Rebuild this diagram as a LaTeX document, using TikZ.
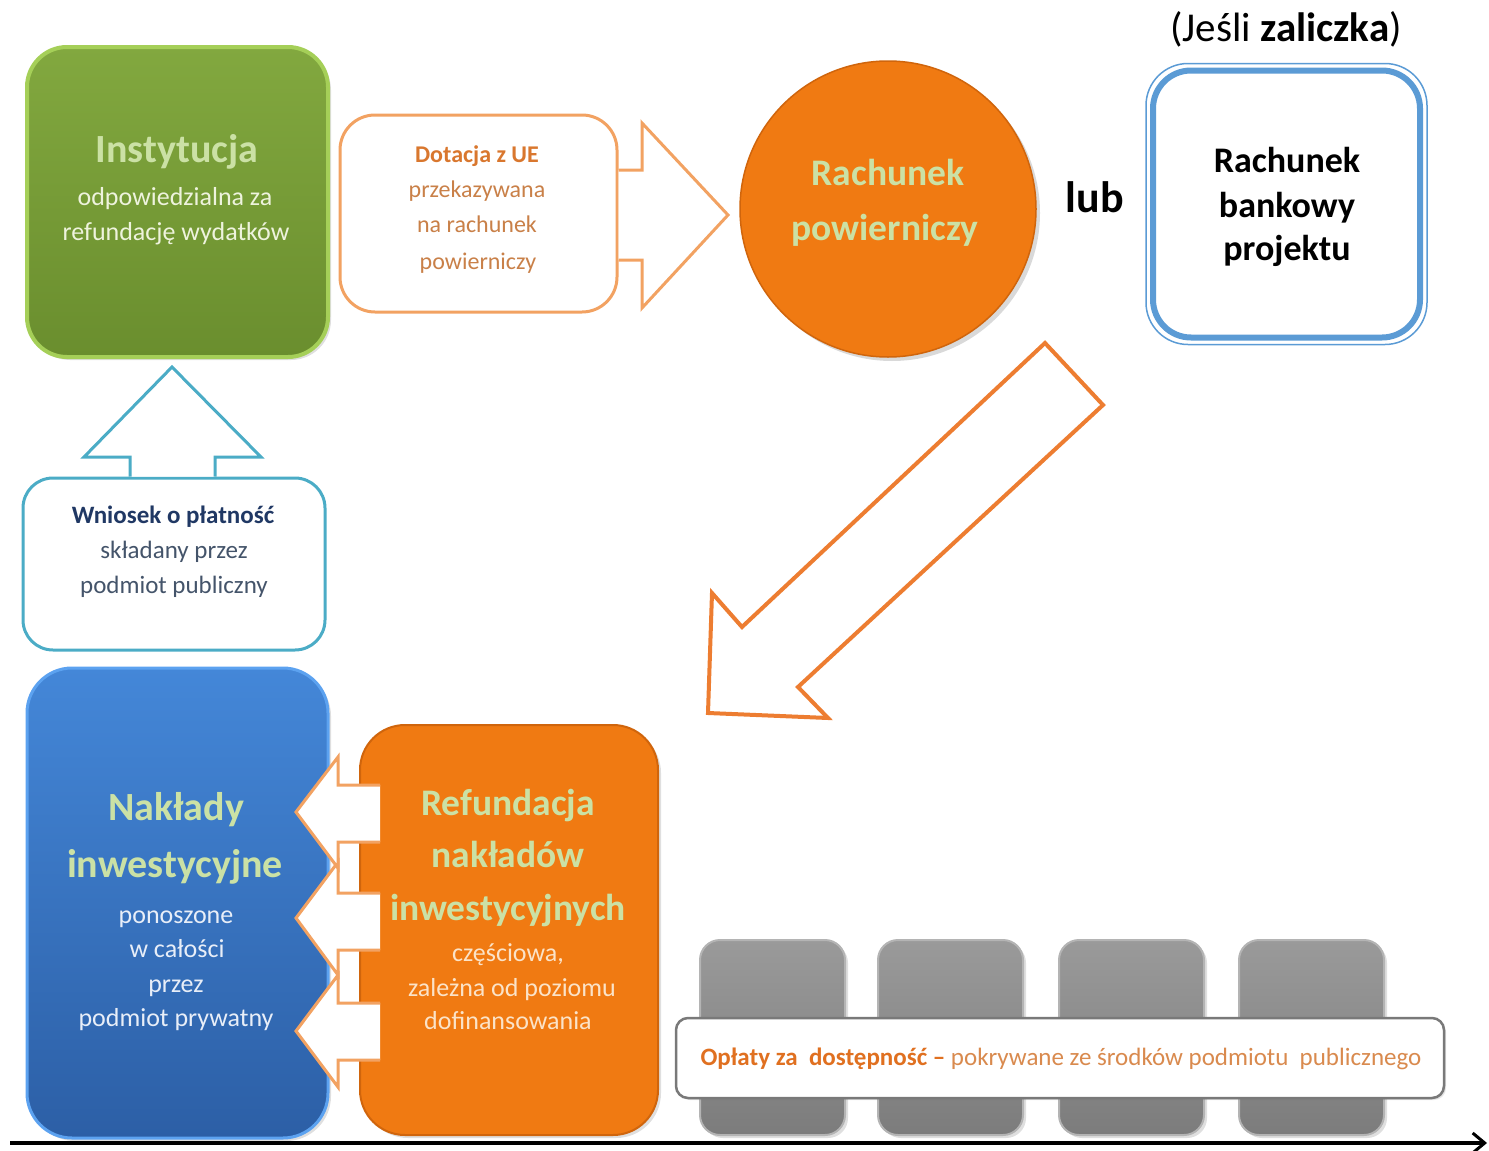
\documentclass[tikz,border=0pt]{standalone}
\usepackage{fontspec}
\setmainfont{Carlito}
\usetikzlibrary{shadows,calc,arrows.meta}
\definecolor{gTop}{HTML}{82A83F}
\definecolor{gBot}{HTML}{6A8E2E}
\definecolor{gRim}{HTML}{A5CF58}
\definecolor{hgreen}{HTML}{CBE1A5}
\definecolor{instTxt}{HTML}{EEF3DD}
\definecolor{orFill}{HTML}{F07A12}
\definecolor{orEdge}{HTML}{D0650C}
\definecolor{orLine}{HTML}{F2A262}
\definecolor{bigOr}{HTML}{ED7D31}
\definecolor{bTop}{HTML}{4487D8}
\definecolor{bBot}{HTML}{2C5FA6}
\definecolor{bRim}{HTML}{5CA2F0}
\definecolor{tealL}{HTML}{4BACC6}
\definecolor{acct}{HTML}{5B9BD5}
\definecolor{navyT}{HTML}{203864}
\definecolor{slateT}{HTML}{44546A}
\definecolor{dotT}{HTML}{D9772E}
\definecolor{dotB}{HTML}{C98048}
\definecolor{grayTop}{HTML}{9A9A9A}
\definecolor{grayBot}{HTML}{7C7C7C}
\definecolor{grayRim}{HTML}{B4B4B4}
\definecolor{nakTxt}{HTML}{E8EEF8}
\definecolor{refTxt}{HTML}{FBE3C8}
\definecolor{oplB}{HTML}{E07020}
\definecolor{oplR}{HTML}{D98A4E}
\tikzset{
  lbl/.style={inner sep=0pt, anchor=base},
  headtxt/.style={lbl, yshift=-12.6pt, font=\fontsize{40}{42}\selectfont\bfseries, text=hgreen},
  headsm/.style={lbl, yshift=-12pt, font=\fontsize{37.5}{40}\selectfont\bfseries, text=hgreen},
  bodytxt/.style={lbl, yshift=-8.5pt, font=\fontsize{26}{30}\selectfont},
  dottxt/.style={lbl, yshift=-7.7pt, font=\fontsize{24}{28}\selectfont, text=dotB},
  wntxt/.style={lbl, yshift=-8pt, font=\fontsize{25}{28}\selectfont, text=slateT},
  banktxt/.style={lbl, yshift=-11.5pt, font=\fontsize{36}{40}\selectfont\bfseries, text=black},
  boxshadow/.style={drop shadow={opacity=0.25, shadow xshift=3pt, shadow yshift=-3pt}},
  blockarrow/.style={line width=3, line join=miter, fill=white},
  graybox/.style={rectangle, rounded corners=20, minimum width=145, minimum height=195,
     top color=grayTop, bottom color=grayBot, draw=grayRim, line width=2, boxshadow},
}
\begin{document}
\begin{tikzpicture}[x=1pt,y=-1pt]
\useasboundingbox (0,0) rectangle (1489,1151);

% ---------- top left: institution ----------
\node[rectangle, rounded corners=40, minimum width=301, minimum height=310,
      top color=gTop, bottom color=gBot, draw=gRim, line width=4, boxshadow] (inst) at (177.5,202) {};
\node[headtxt] (inst1) at (177,150) {Instytucja};
\node[bodytxt, text=instTxt] (inst2) at (175,197) {odpowiedzialna za};
\node[bodytxt, text=instTxt] (inst3) at (176,232) {refundację wydatków};

% ---------- Dotacja box and arrow ----------
\node[rectangle, rounded corners=35, minimum width=277, minimum height=197,
      draw=orLine, line width=3, fill=white] (dot) at (478.5,213.5) {};
\node[dottxt, text=dotT, font=\fontsize{24}{28}\selectfont\bfseries] (dot1) at (477,155) {Dotacja z UE};
\node[dottxt] (dot2) at (477,190) {przekazywana};
\node[dottxt] (dot3) at (477,225) {na rachunek};
\node[dottxt] (dot4) at (478,262) {powierniczy};
\draw[blockarrow, draw=orLine] (dot.east |- 0,170) -- (642,170) -- (642,123) -- (728,215)
   -- (642,308) -- (642,260) -- (dot.east |- 0,260);

% ---------- circle ----------
\node[circle, minimum size=296, fill=orFill, draw=orEdge, line width=1.5,
      drop shadow={opacity=0.3, shadow xshift=4pt, shadow yshift=-4pt}] (circ) at (888,209) {};
\node[headsm] (circ1) at (888,173) {Rachunek};
\node[headsm] (circ2) at (885,228) {powierniczy};

% ---------- lub / bank account ----------
\node[lbl, yshift=-14pt, font=\fontsize{44}{48}\selectfont\bfseries] (lub) at (1095,198) {lub};
\node[lbl, yshift=-13pt, font=\fontsize{41}{44}\selectfont] (jesli) at (1286,28) {(Jeśli \textbf{zaliczka})};
\node[rectangle, rounded corners=38, minimum width=267, minimum height=267,
      draw=acct, line width=6, fill=white] (bank) at (1286.5,204) {};
\draw[acct, line width=1.5, rounded corners=42]
   ($(bank.south west)+(-4,4)$) rectangle ($(bank.north east)+(4,-4)$);
\node[banktxt] (bank1) at (1287,161) {Rachunek};
\node[banktxt] (bank2) at (1287,206) {bankowy};
\node[banktxt] (bank3) at (1287,249) {projektu};

% ---------- big diagonal arrow ----------
\draw[blockarrow, draw=bigOr, line width=4]
  (1045,343) -- (742,627) -- (712,593) -- (708,713) -- (828,718) -- (798,687) -- (1103,405) -- cycle;

% ---------- Wniosek ----------
\node[rectangle, rounded corners=30, minimum width=302, minimum height=172,
      draw=tealL, line width=3, fill=white] (wn) at (174,564) {};
\draw[blockarrow, draw=tealL] (wn.north -| 130,0) -- (130,457) -- (84,457) -- (172,367)
   -- (261,457) -- (215,457) -- (wn.north -| 215,0);
\node[wntxt, text=navyT, font=\fontsize{25}{28}\selectfont\bfseries] (wn1) at (173,515) {Wniosek o płatność};
\node[wntxt] (wn2) at (174,550) {składany przez};
\node[wntxt] (wn3) at (174,585) {podmiot publiczny};

% ---------- Nakłady / Refundacja ----------
\node[rectangle, rounded corners=45, minimum width=301, minimum height=470,
      top color=bTop, bottom color=bBot, draw=bRim, line width=3, boxshadow] (nak) at (177.5,903) {};
\node[rectangle, rounded corners=45, minimum width=298, minimum height=410,
      fill=orFill, draw=orEdge, line width=2, boxshadow] (ref) at (509,930) {};

\draw[blockarrow, draw=orLine] (380,1003) -- (338,1003) -- (338,975) -- (296,1031)
   -- (338,1087) -- (338,1060) -- (380,1060);
\draw[blockarrow, draw=orLine] (380,893) -- (338,893) -- (338,862) -- (296,918)
   -- (338,975) -- (338,950) -- (380,950);
\draw[blockarrow, draw=orLine] (380,785) -- (338,785) -- (338,757) -- (296,812)
   -- (338,868) -- (338,842) -- (380,842);

\node[headtxt] (nak1) at (176,808) {Nakłady};
\node[headtxt] (nak2) at (175,865) {inwestycyjne};
\node[bodytxt, text=nakTxt] (nak3) at (176,915) {ponoszone};
\node[bodytxt, text=nakTxt] (nak4) at (177,949) {w całości};
\node[bodytxt, text=nakTxt] (nak5) at (176,984) {przez};
\node[bodytxt, text=nakTxt] (nak6) at (176,1018) {podmiot prywatny};

\node[headsm] (ref1) at (508,803) {Refundacja};
\node[headsm] (ref2) at (508,855) {nakładów};
\node[headsm] (ref3) at (508,908) {inwestycyjnych};
\node[bodytxt, text=refTxt] (ref4) at (508,953) {częściowa,};
\node[bodytxt, text=refTxt] (ref5) at (512,988) {zależna od poziomu};
\node[bodytxt, text=refTxt] (ref6) at (508,1021) {dofinansowania};

% ---------- availability payments ----------
\node[graybox] (g1) at (772.5,1037.5) {};
\node[graybox] (g2) at (950.5,1037.5) {};
\node[graybox] (g3) at (1131.5,1037.5) {};
\node[graybox] (g4) at (1311.5,1037.5) {};
\node[rectangle, rounded corners=12, minimum width=768, minimum height=80,
      fill=white, draw=gray!95!black, line width=2.5,
      drop shadow={opacity=0.2, shadow xshift=2pt, shadow yshift=-2pt}] (opl) at (1060,1058) {};
\node[lbl, yshift=-8pt, font=\fontsize{25}{28}\selectfont] (opl1) at (1061,1057)
   {\textcolor{oplB}{\textbf{Opłaty za\ \ dostępność –}} \textcolor{oplR}{pokrywane ze środków podmiotu\ \ publicznego}};

% ---------- timeline ----------
\coordinate (t0) at (10,1143);
\coordinate (t1) at (1487,1143);
\draw[line width=4, -{Straight Barb[length=12pt,width=20pt,line width=3pt]}] (t0) -- (t1);
\end{tikzpicture}
\end{document}
